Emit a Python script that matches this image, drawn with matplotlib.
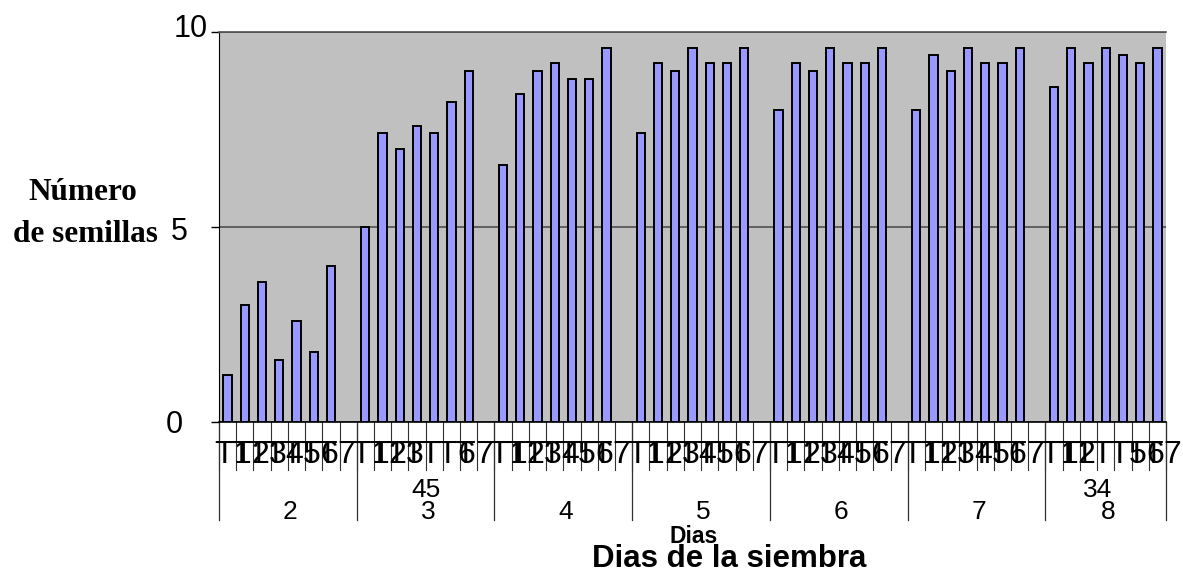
import matplotlib
matplotlib.use('Agg')
import matplotlib.pyplot as plt
from matplotlib.transforms import blended_transform_factory

# Número de semillas por tratamiento (T1..T7) para cada día de siembra
dias = ['2', '3', '4', '5', '6', '7', '8']
dia2 = [1.2, 3.0, 3.6, 1.6, 2.6, 1.8, 4.0]
dia3 = [5.0, 7.4, 7.0, 7.6, 7.4, 8.2, 9.0]
dia4 = [6.6, 8.4, 9.0, 9.2, 8.8, 8.8, 9.6]
dia5 = [7.4, 9.2, 9.0, 9.6, 9.2, 9.2, 9.6]
dia6 = [8.0, 9.2, 9.0, 9.6, 9.2, 9.2, 9.6]
dia7 = [8.0, 9.4, 9.0, 9.6, 9.2, 9.2, 9.6]
dia8 = [8.6, 9.6, 9.2, 9.6, 9.4, 9.2, 9.6]
semillas = [dia2, dia3, dia4, dia5, dia6, dia7, dia8]

digitos = ['1', '2', '3', '4', '5', '6', '7']
# dígitos que se desplazan a la fila de abajo en algunos días
desplazados = {'3': ('45', ['4', '5'], -0.1), '8': ('34', ['3', '4'], -0.6)}

yticks = [0, 5, 10]

W, H = 1183, 574
fig = plt.figure(figsize=(W / 100, H / 100), dpi=100)
ax = fig.add_axes([219 / W, 1 - 422 / H, 947 / W, 390 / H])
ax.set_facecolor('#C0C0C0')

# 8 huecos por día (7 barras + 1 vacío), el último día sin hueco vacío
n_slots = 8 * (len(dias) - 1) + 7
for g, vals in enumerate(semillas):
    xs = [g * 8 + j for j in range(len(vals))]
    ax.bar(xs, vals, width=0.48, color='#9999FF', edgecolor='black',
           linewidth=1.4, zorder=3)

ax.set_xlim(-0.5, n_slots - 0.5)
ax.set_ylim(0, 10)
ax.set_xticks([])
ax.set_yticks(yticks)
ax.set_yticklabels([])
ax.tick_params(axis='y', length=6, width=1, color='black', direction='out')
ax.yaxis.grid(True, color='#505050', linewidth=1.2, zorder=1)
ax.set_axisbelow(True)
ax.spines['right'].set_visible(False)
ax.spines['top'].set_color('#505050')
ax.spines['top'].set_linewidth(1.2)
ax.spines['left'].set_color('black')
ax.spines['bottom'].set_color('black')
ax.spines['bottom'].set_linewidth(1.2)

def fy(py):
    return 1 - py / H

# Etiquetas del eje Y
pos_y = {0: (183, 433), 5: (188, 240), 10: (208, 37)}
for t in yticks:
    px, base = pos_y[t]
    fig.text(px / W, fy(base), str(t), ha='right', va='baseline',
             fontsize=22, family='Liberation Sans')

fig.text(83 / W, fy(200), 'Número', ha='center', va='baseline',
         fontsize=22.5, fontweight='bold', family='Liberation Serif')
fig.text(85 / W, fy(242), 'de semillas', ha='center', va='baseline',
         fontsize=22.5, fontweight='bold', family='Liberation Serif')

# Tabla de categorías debajo del eje X
tr = blended_transform_factory(ax.transData, ax.transAxes)
slot_bajo = -(470 - 422) / 390
grupo_bajo = -(520 - 422) / 390
for k in range(n_slots + 1):
    ax.plot([k - 0.5, k - 0.5], [0, slot_bajo], color='#303030', lw=0.8,
            transform=tr, clip_on=False)
limites = [g * 8 - 0.5 for g in range(len(dias))] + [n_slots - 0.5]
for x in limites:
    ax.plot([x, x], [0, grupo_bajo], color='#303030', lw=0.9,
            transform=tr, clip_on=False)

tf = blended_transform_factory(ax.transData, fig.transFigure)
for g, dia in enumerate(dias):
    faltan = desplazados.get(dia, ('', [], 0))[1]
    for j in range(8):
        x = g * 8 + j
        if j < 7:
            ax.text(x - 0.23, fy(463), 'T', ha='center', va='baseline',
                    fontsize=23, family='Liberation Sans', transform=tf)
        if j >= 1 and digitos[j - 1] not in faltan:
            ax.text(x - 0.12, fy(463), digitos[j - 1], ha='center',
                    va='baseline', fontsize=23, family='Liberation Sans',
                    transform=tf)
    ancho = 8 if g < len(dias) - 1 else 7
    centro = g * 8 + (ancho - 1) / 2 + 0.15
    ax.text(centro, fy(519), dia, ha='center', va='baseline', fontsize=19,
            family='Liberation Sans', transform=tf)
    if dia in desplazados:
        texto, _, dx = desplazados[dia]
        ax.text(centro + dx, fy(497), texto, ha='center', va='baseline',
                fontsize=19, family='Liberation Sans', transform=tf)

fig.text(694 / W, fy(543), 'Dias', ha='center', va='baseline', fontsize=16.5,
         fontweight='bold', family='Liberation Sans')
fig.text(729 / W, fy(567), 'Dias de la siembra', ha='center', va='baseline',
         fontsize=22.5, fontweight='bold', family='Liberation Sans')

fig.savefig('out.png', dpi=100)
